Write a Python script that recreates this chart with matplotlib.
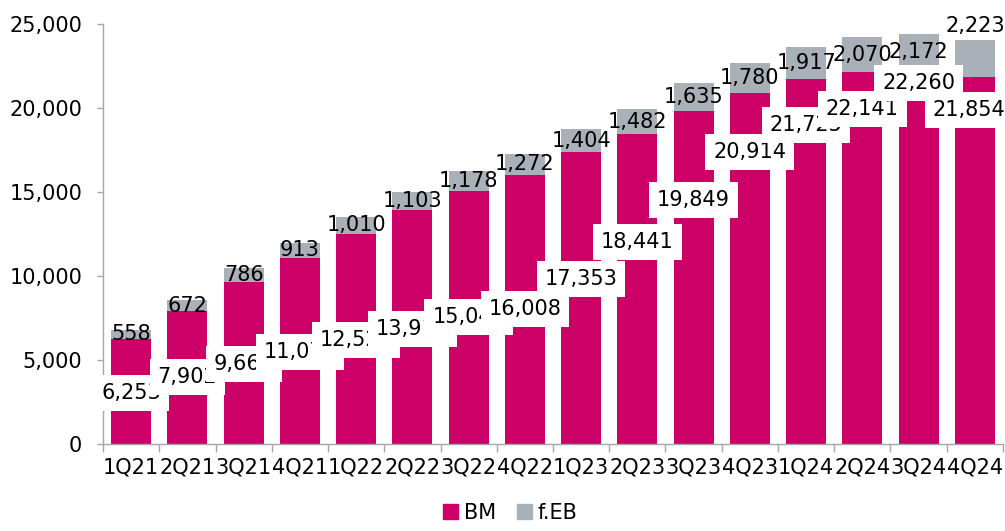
import numpy as np
import matplotlib
matplotlib.use("Agg")
import matplotlib.pyplot as plt
from matplotlib.patches import Patch
from matplotlib.ticker import FuncFormatter, FixedLocator

# 数据
quarters = ["1Q21", "2Q21", "3Q21", "4Q21", "1Q22", "2Q22", "3Q22", "4Q22",
            "1Q23", "2Q23", "3Q23", "4Q23", "1Q24", "2Q24", "3Q24", "4Q24"]
bm = [6253, 7902, 9664, 11073, 12523, 13912, 15047, 16008,
      17353, 18441, 19849, 20914, 21725, 22141, 22260, 21854]
feb = [558, 672, 786, 913, 1010, 1103, 1178, 1272,
       1404, 1482, 1635, 1780, 1917, 2070, 2172, 2223]

# 标签位置 (手动调整过的)
bm_label_y = [3036, 3988, 4762, 5476, 6190, 6845, 7559, 8035,
              9821, 12023, 14523, 17380, 18987, 19940, 21488, 19880]
feb_label_y = [b + f / 2 for b, f in zip(bm, feb)]
feb_label_y[-1] = 24900

pink = "#CC0066"
grey = "#A9B0B7"
axis_grey = "#A6A6A6"

plt.rcParams["font.family"] = ["DejaVu Sans"]
plt.rcParams["font.size"] = 15

fig = plt.figure(figsize=(10.05, 5.31), dpi=100)
ax = fig.add_axes([0.1025, 0.1638, 0.8955, 0.791])

x = np.arange(len(quarters))
ax.bar(x, bm, width=0.71, color=pink, zorder=2)
ax.bar(x, feb, width=0.71, bottom=bm, color=grey, zorder=2)

for i in range(len(quarters)):
    ax.text(x[i], feb_label_y[i], f"{feb[i]:,}", ha="center", va="center",
            zorder=3)
for i in range(len(quarters)):
    ax.text(x[i] - (0.1 if i == len(quarters) - 1 else 0), bm_label_y[i],
            f"{bm[i]:,}", ha="center", va="center", zorder=4 + i,
            bbox=dict(boxstyle="square,pad=0.38", fc="white", ec="none"))

ax.set_xlim(-0.5, len(quarters) - 0.5)
ax.set_ylim(0, 25000)
ax.set_yticks(range(0, 25001, 5000))
ax.yaxis.set_major_formatter(FuncFormatter(lambda v, p: f"{int(v):,}"))

ax.xaxis.set_major_locator(FixedLocator(np.arange(-0.5, len(quarters), 1.0)))
ax.xaxis.set_minor_locator(FixedLocator(x))
ax.set_xticklabels([], minor=False)
ax.set_xticklabels(quarters, minor=True)
ax.tick_params(axis="x", which="major", length=6, width=1, color=axis_grey)
ax.tick_params(axis="x", which="minor", length=0, pad=10, labelsize=15)
ax.tick_params(axis="y", length=4, width=1, color=axis_grey, pad=11, labelsize=15)

for s in ["top", "right"]:
    ax.spines[s].set_visible(False)
for s in ["left", "bottom"]:
    ax.spines[s].set_color(axis_grey)
    ax.spines[s].set_linewidth(1)

handles = [Patch(color=pink, label="BM"), Patch(color=grey, label="f.EB")]
fig.legend(handles=handles, loc="lower center", bbox_to_anchor=(0.508, -0.02),
           ncol=2, frameon=False, fontsize=15, handlelength=0.7, handleheight=0.7,
           handletextpad=0.3, columnspacing=1.0)

fig.savefig("out.png", dpi=100)
